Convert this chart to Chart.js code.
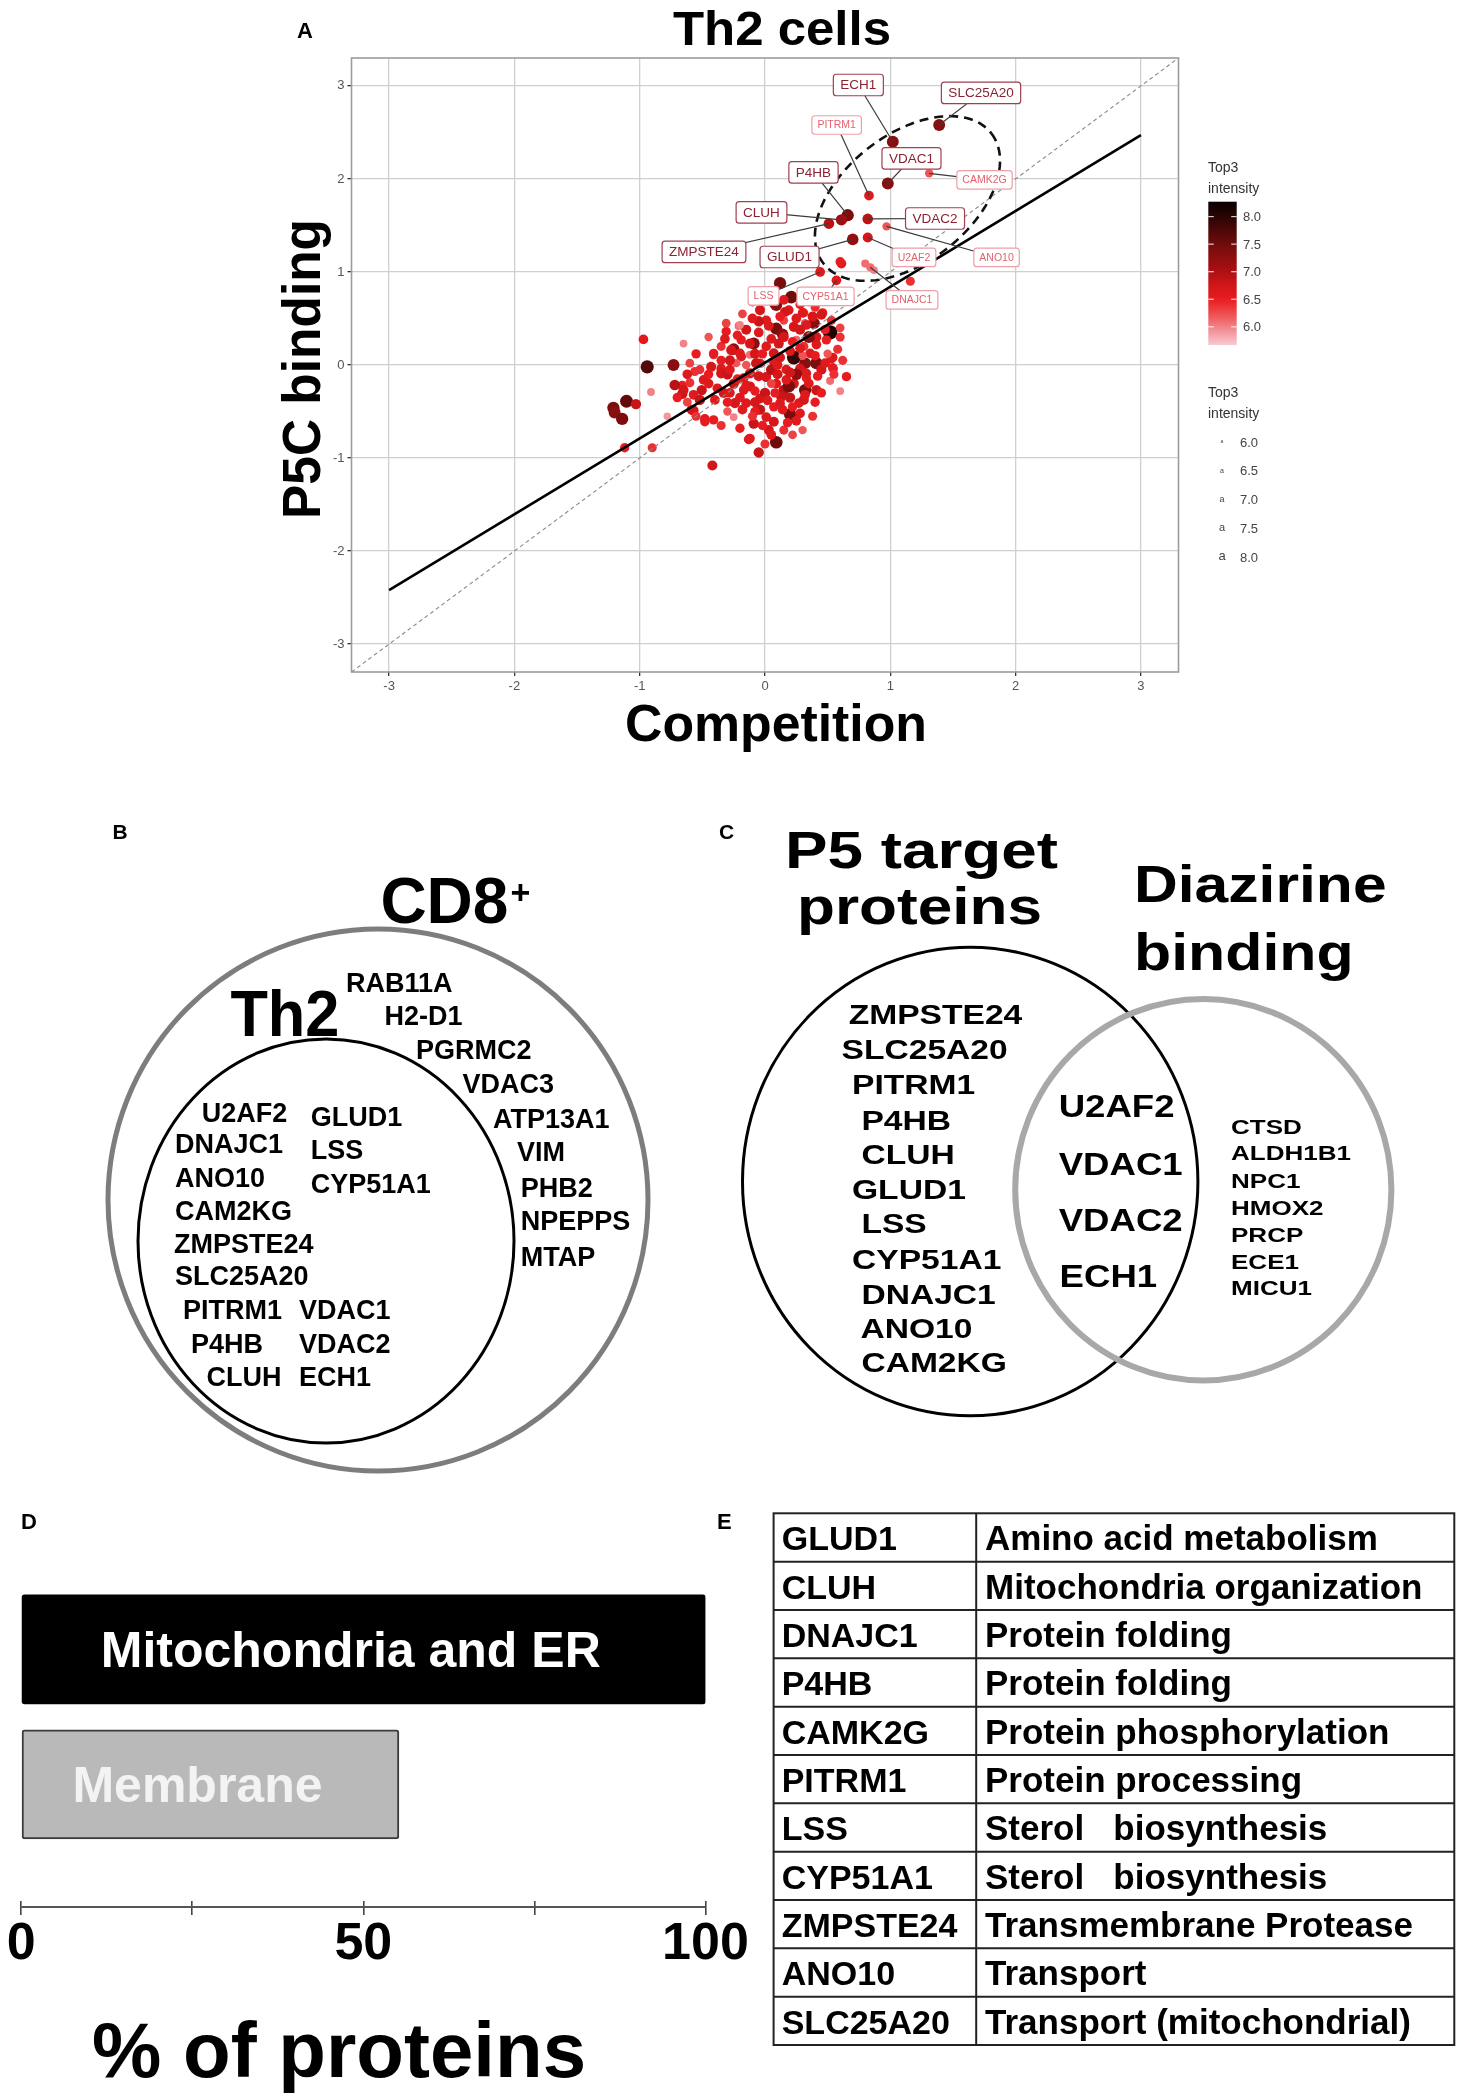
<!DOCTYPE html>
<html><head><meta charset="utf-8">
<script src="https://cdn.jsdelivr.net/npm/chart.js@4.4.0/dist/chart.umd.min.js"></script>
<style>
html,body{margin:0;padding:0;background:#fff;}
#page{position:relative;width:1469px;height:2100px;overflow:hidden;background:#fff;}
canvas{position:absolute;}
#cA{left:0;top:0;width:1469px;height:760px;}
#cD{left:0;top:1540px;width:760px;height:450px;}
#ov{position:absolute;left:0;top:0;}
</style></head>
<body><div id="page">
<canvas id="cA" width="1469" height="760"></canvas>
<canvas id="cD" width="760" height="450"></canvas>
<svg id="ov" width="1469" height="2100" xmlns="http://www.w3.org/2000/svg"></svg>
</div>
<script>
// ---------------- DATA ----------------
// Panel A: all quantified proteins (Competition, P5C binding, Top3 intensity)
const cloudX = [
-0.97,-0.94,-0.73,-0.65,-1.21,-1.105,-1.03,-1.20,-1.14,-1.12,
-0.90,-0.91,-0.42,-0.05,0.09,-0.12,0.20,0.52,0.23,0.65,
0.54,0.58,0.54,0.52,-0.48,-0.57,-0.66,-0.66,-0.25,-0.31,
-0.21,-0.25,-0.41,0.32,0.41,0.46,0.32,-0.56,-0.72,-0.65,
-0.57,-0.585,-0.48,-0.41,-0.78,-0.41,-0.13,0.03,0.07,-0.09,
-0.04,-0.17,-0.25,0.32,0.23,0.15,0.27,0.33,0.41,0.31,
0.53,0.545,0.60,0.45,0.39,0.33,0.31,0.23,0.09,0.01,
-0.04,-0.05,0.08,0.21,0.19,-0.15,-0.19,-0.27,-0.19,-0.09,
0.01,0.11,0.07,-0.04,-0.12,-0.17,0.01,0.09,0.19,0.17,
0.28,0.36,0.41,0.49,-0.35,-0.43,-0.49,-0.505,-0.33,-0.40,
-0.24,-0.15,-0.04,0.01,0.07,0.13,-0.12,-0.23,0.25,-0.31,
-0.20,0.12,0.16,0.09,0.30,0.38,0.53,0.62,0.14,-0.20,
-0.12,-0.07,0.07,0.17,-0.12,-0.28,0.33,0.41,0.31,0.12,
-0.08,-0.35,-0.45,-0.60,-0.52,0.61,1.16,0.87,0.80,0.60,
0.44,0.35,-0.10,0.00,0.05,-0.08,0.20,0.25,0.10,-0.30,
-0.20,0.10,0.15,-0.05,0.20,0.35,-0.35,0.45,0.40,0.25,
-0.10,-0.60,0.50,0.15,-0.30,0.05,0.30,-0.15,0.60,0.15,
-0.35,-0.28,-0.22,-0.15,-0.08,0.02,0.08,0.14,0.22,0.28,
0.18,0.05,-0.02,-0.18,-0.30,-0.38,-0.45,-0.52,-0.62,-0.70,
-0.55,0.35,0.42,0.48,0.40,0.28,0.22,0.05,-0.02,0.03,
0.12,0.25,0.28,0.40,-0.10,-0.22,-0.32,-0.28,-0.05,0.12,
0.20,0.32,0.45,0.55,0.48,0.15,0.02,-0.18,-0.45,-0.55,
-0.62,-0.35,-0.20,0.00,0.22,0.30,0.38,0.60,0.28,-0.08];
const cloudY = [
0.275,-0.02,0.00,0.23,-0.46,-0.39,-0.42,-0.51,-0.58,-0.89,
-0.89,-0.29,-1.08,-0.94,-0.83,-0.79,-0.53,0.35,0.08,-0.125,
0.08,0.17,-0.03,-0.17,-0.58,-0.49,-0.31,-0.22,-0.56,0.36,
0.42,0.17,0.11,0.02,0.22,0.56,0.45,-0.07,-0.215,-0.27,
-0.32,-0.48,-0.61,-0.59,-0.55,0.125,-0.80,-0.70,-0.45,-0.63,
-0.36,-0.27,-0.20,-0.27,-0.20,-0.27,-0.41,-0.14,0.02,0.20,
0.07,-0.04,0.30,0.54,0.45,0.43,0.56,0.41,0.39,0.48,
0.59,0.47,0.66,0.73,0.59,0.38,0.27,0.16,0.09,0.23,
0.20,0.23,0.035,0.02,-0.09,-0.14,-0.13,-0.20,-0.23,-0.05,
-0.04,0.125,0.30,0.27,-0.04,-0.02,-0.16,-0.27,-0.30,-0.375,
-0.41,-0.41,-0.48,-0.56,-0.61,-0.34,0.11,0.02,0.27,0.45,
0.43,0.88,0.57,0.645,0.56,0.52,0.48,0.05,0.33,0.125,
0.23,0.02,0.125,-0.16,-0.23,-0.30,-0.09,-0.27,-0.375,-0.41,
-0.50,-0.09,-0.20,-0.19,-0.375,1.09,0.90,1.02,1.09,1.11,
0.78,0.68,0.68,-0.30,-0.05,0.12,0.15,-0.10,-0.10,-0.10,
-0.35,0.00,0.30,0.35,-0.35,0.30,0.20,-0.05,-0.40,-0.60,
-0.55,0.02,0.12,0.48,-0.50,-0.20,0.10,0.00,-0.28,-0.70,
0.05,-0.05,-0.15,-0.22,-0.28,-0.38,-0.30,-0.48,-0.45,-0.52,
-0.62,-0.75,-0.65,-0.48,-0.40,-0.25,-0.10,-0.05,-0.10,-0.35,
-0.55,-0.20,-0.12,0.02,0.10,0.18,0.25,0.28,0.12,0.42,
0.52,0.50,0.65,0.62,0.50,0.32,0.28,0.05,-0.12,0.08,
-0.08,-0.32,-0.30,-0.10,0.38,0.70,0.75,0.55,0.30,0.12,
-0.40,-0.65,-0.68,-0.85,-0.75,-0.70,-0.55,0.40,0.38,-0.40];
const cloudI = [
6.6,7.7,7.3,6.0,7.4,7.6,6.8,7.3,7.4,6.5,
6.4,6.0,6.7,6.8,7.5,6.6,7.4,8.1,7.9,6.5,
6.6,6.4,6.5,6.1,6.6,6.7,6.8,6.5,6.0,6.5,
6.1,7.2,6.4,7.3,6.6,6.5,6.2,6.4,6.9,6.7,
6.6,6.7,6.5,6.5,5.9,6.5,6.6,6.7,6.5,6.8,
6.7,6.6,6.8,7.4,6.7,6.9,6.6,6.5,7.4,6.4,
6.6,6.5,6.4,6.7,7.3,6.6,6.4,6.7,7.4,6.6,
6.7,6.8,7.2,7.5,6.6,6.7,6.5,6.7,6.6,7.3,
6.6,6.7,6.6,6.5,6.7,6.6,6.7,6.6,7.4,6.6,
6.7,6.6,6.7,6.5,6.6,6.7,6.6,6.8,6.7,6.6,
6.7,6.6,6.8,6.6,6.7,6.8,6.1,6.2,6.1,6.3,
6.0,7.4,6.7,7.3,6.6,6.7,6.4,6.4,7.2,6.6,
6.7,6.8,6.7,6.6,6.7,6.6,6.6,6.8,6.7,6.6,
6.5,6.7,6.6,6.4,6.8,6.6,6.4,6.0,6.1,6.5,
6.4,6.4,6.5,6.8,6.9,6.7,6.6,7.2,6.7,6.8,
6.6,6.6,6.7,6.6,6.8,7.3,6.4,6.7,6.5,6.6,
6.4,6.3,6.2,6.3,6.2,6.3,6.2,6.2,6.0,6.4,
6.5,6.6,6.5,6.6,6.5,6.6,6.5,6.6,6.5,6.6,
6.5,6.6,6.5,6.6,6.5,6.6,6.5,6.4,6.6,6.5,
6.4,6.6,6.5,6.6,6.5,6.6,6.5,6.6,6.5,6.6,
6.5,6.6,6.5,6.4,6.6,6.5,6.6,6.7,6.7,6.7,
6.7,6.6,6.5,6.4,6.5,6.6,6.5,6.3,6.2,6.5,
6.3,6.4,6.5,6.4,6.3,6.2,6.4,6.3,6.7,6.7];
// Panel A: labelled P5 target proteins
const geneNames = ['ECH1','SLC25A20','PITRM1','VDAC1','CAMK2G','P4HB','CLUH','VDAC2','ZMPSTE24','GLUD1','U2AF2','ANO10','LSS','CYP51A1','DNAJC1'];
const geneX = [1.02,1.39,0.83,0.98,1.31,0.66,0.61,0.82,0.51,0.70,0.82,0.97,0.44,0.57,0.84];
const geneY = [2.40,2.58,1.82,1.95,2.06,1.61,1.56,1.57,1.52,1.35,1.37,1.49,1.00,0.91,1.05];
const geneI = [7.3,7.3,6.6,7.3,6.2,7.4,7.1,6.9,6.9,7.2,6.7,6.2,6.6,6.6,6.1];
// Panel A: fitted regression line and identity line
const fitX = [-3, 3];
const fitY = [-2.42, 2.47];
const idX = [-3.3, 3.3];
const idY = [-3.3, 3.3];
const axisTicksA = [-3,-2,-1,0,1,2,3];
const legendBreaks = [6.0, 6.5, 7.0, 7.5, 8.0];
const intensityRange = [5.67, 8.27];

// Panel B
const cd8OnlyGenes = ['RAB11A','H2-D1','PGRMC2','VDAC3','ATP13A1','VIM','PHB2','NPEPPS','MTAP'];
const th2GenesA = ['U2AF2','DNAJC1','ANO10','CAM2KG','ZMPSTE24','SLC25A20','PITRM1','P4HB','CLUH'];
const th2GenesB = ['GLUD1','LSS','CYP51A1','VDAC1','VDAC2','ECH1'];
// Panel C
const p5OnlyGenes = ['ZMPSTE24','SLC25A20','PITRM1','P4HB','CLUH','GLUD1','LSS','CYP51A1','DNAJC1','ANO10','CAM2KG'];
const sharedGenes = ['U2AF2','VDAC1','VDAC2','ECH1'];
const diazOnlyGenes = ['CTSD','ALDH1B1','NPC1','HMOX2','PRCP','ECE1','MICU1'];
// Panel D
const locCategories = ['Mitochondria and ER','Membrane'];
const locPercent = [100, 55.2];
const pctTickLabels = [0, 50, 100];
// Panel E
const tableGenes = ['GLUD1','CLUH','DNAJC1','P4HB','CAMK2G','PITRM1','LSS','CYP51A1','ZMPSTE24','ANO10','SLC25A20'];
const tableFunctions = ['Amino acid metabolism','Mitochondria organization','Protein folding','Protein folding','Protein phosphorylation','Protein processing','Sterol\u00a0\u00a0\u00a0biosynthesis','Sterol\u00a0\u00a0\u00a0biosynthesis','Transmembrane Protease','Transport','Transport (mitochondrial)'];

// ---------------- LAYOUT / STYLE (not data) ----------------
const labelAtX = [0.745,1.724,0.572,1.169,1.752,0.387,-0.028,1.357,-0.487,0.196,1.189,1.848,-0.012,0.483,1.173];
const labelAtY = [3.01,2.925,2.58,2.22,1.99,2.07,1.64,1.575,1.215,1.161,1.156,1.156,0.742,0.737,0.699];
const ellipseCenter = [1.137, 1.79];
const ellipseU = [0.670, 0.699];
const ellipseV = [0.311, -0.543];
const cd8OnlyPos = [[346,992],[384.6,1024.7],[416,1059],[462.5,1092.5],[493,1128],[517,1161],[520.7,1197],[520.7,1230],[520.7,1266]];
const th2APos = [[201.8,1122],[175,1153],[175,1186.6],[175,1220],[174,1252.5],[175,1285],[183,1319.4],[191,1352.7],[206.4,1386]];
const th2BPos = [[310.7,1126],[310.7,1158.7],[310.7,1193],[299,1319.4],[299,1352.7],[299,1386]];
const p5OnlyPos = [[848.7,1023.9],[841.6,1059],[852,1094.4],[861.4,1129.6],[861.4,1164],[852,1198.8],[861.4,1233],[852,1268.5],[861.4,1303.7],[860.5,1338],[861.4,1372]];
const sharedPos = [[1058.7,1117],[1058.7,1175],[1058.7,1231],[1059.6,1287]];
const diazPos = [[1231,1133.7],[1231,1160],[1231,1187.6],[1231,1214.6],[1231,1241.5],[1231,1268.5],[1231,1295.4]];

const FONT = "'Liberation Sans', Arial, Helvetica, sans-serif";
Chart.defaults.font.family = FONT;

const colorStops = [[5.67,[246,202,210]],[6.0,[242,130,135]],[6.2,[240,85,85]],[6.5,[232,28,32]],[6.75,[210,22,25]],[7.0,[172,16,19]],[7.5,[112,12,12]],[8.0,[42,4,4]],[8.27,[10,0,0]]];
function colorOf(v){
  if (v <= colorStops[0][0]) return 'rgb('+colorStops[0][1].join(',')+')';
  for (let i=1;i<colorStops.length;i++){
    if (v <= colorStops[i][0]) {
      const [a,ca]=colorStops[i-1],[b,cb]=colorStops[i]; const t=(v-a)/(b-a);
      return 'rgb('+ca.map((c,k)=>Math.round(c+(cb[k]-c)*t)).join(',')+')';
    }
  }
  return 'rgb('+colorStops[colorStops.length-1][1].join(',')+')';
}
function sizeOf(v){ return Math.max(3.0, 3.9 + (v-6)*1.6); }

// ---------------- PANEL A (Chart.js scatter) ----------------
function roundRect(ctx,x,y,w,h,r){ctx.beginPath();ctx.moveTo(x+r,y);ctx.lineTo(x+w-r,y);ctx.quadraticCurveTo(x+w,y,x+w,y+r);ctx.lineTo(x+w,y+h-r);ctx.quadraticCurveTo(x+w,y+h,x+w-r,y+h);ctx.lineTo(x+r,y+h);ctx.quadraticCurveTo(x,y+h,x,y+h-r);ctx.lineTo(x,y+r);ctx.quadraticCurveTo(x,y,x+r,y);ctx.closePath();}
const aPlugin = {
  id:'aDecor',
  beforeDatasetsDraw(chart){
    const {ctx, chartArea:ca} = chart;
    ctx.save(); ctx.strokeStyle='#9c9c9c'; ctx.lineWidth=1.6;
    ctx.strokeRect(ca.left, ca.top, ca.right-ca.left, ca.bottom-ca.top); ctx.restore();
  },
  afterDatasetsDraw(chart){
    const {ctx, scales:{x,y}} = chart;
    ctx.save();
    ctx.setLineDash([9,6]); ctx.lineWidth=2.6; ctx.strokeStyle='#111';
    ctx.beginPath();
    for (let k=0;k<=160;k++){
      const t=k/160*2*Math.PI;
      const dx=ellipseCenter[0]+ellipseU[0]*Math.cos(t)+ellipseV[0]*Math.sin(t);
      const dy=ellipseCenter[1]+ellipseU[1]*Math.cos(t)+ellipseV[1]*Math.sin(t);
      const px=x.getPixelForValue(dx), py=y.getPixelForValue(dy);
      if(k===0) ctx.moveTo(px,py); else ctx.lineTo(px,py);
    }
    ctx.stroke(); ctx.setLineDash([]);
    geneNames.forEach((g,i)=>{
      ctx.strokeStyle='#3b3b3b'; ctx.lineWidth=1.2; ctx.beginPath();
      ctx.moveTo(x.getPixelForValue(geneX[i]), y.getPixelForValue(geneY[i]));
      ctx.lineTo(x.getPixelForValue(labelAtX[i]), y.getPixelForValue(labelAtY[i]));
      ctx.stroke();
    });
    geneNames.forEach((g,i)=>{
      const dark = geneI[i] >= 6.85;
      const fs = dark ? 13.5 : 10.5;
      ctx.font = fs+'px '+FONT;
      const tw = ctx.measureText(g).width;
      const w = tw + (dark?14:11), h = fs + 8;
      const lx=x.getPixelForValue(labelAtX[i]), ly=y.getPixelForValue(labelAtY[i]);
      roundRect(ctx, lx-w/2, ly-h/2, w, h, 3);
      ctx.fillStyle='#fff'; ctx.fill();
      ctx.strokeStyle = dark ? '#a0404e' : '#eea0a8'; ctx.lineWidth=1.2; ctx.stroke();
      ctx.fillStyle = dark ? '#8a2232' : '#e4606d';
      ctx.textAlign='center'; ctx.textBaseline='middle';
      ctx.fillText(g, lx, ly+0.5);
    });
    ctx.restore();
  }
};
new Chart(document.getElementById('cA'), {
  type:'scatter',
  data:{datasets:[
    {label:'fit', type:'line', data: fitX.map((v,i)=>({x:v,y:fitY[i]})), borderColor:'#000', borderWidth:2.6, pointRadius:0, fill:false, order:1},
    {label:'identity', type:'line', data: idX.map((v,i)=>({x:v,y:idY[i]})), borderColor:'#8a8a8a', borderWidth:1.1, borderDash:[4,3], pointRadius:0, fill:false, order:1},
    {label:'targets', data: geneX.map((v,i)=>({x:v,y:geneY[i]})), pointRadius: geneI.map(sizeOf), backgroundColor: geneI.map(colorOf), borderWidth:0, order:2},
    {label:'proteins', data: cloudX.map((v,i)=>({x:v,y:cloudY[i]})), pointRadius: cloudI.map(sizeOf), backgroundColor: cloudI.map(colorOf), borderWidth:0, order:3}
  ]},
  options:{
    responsive:false, animation:false, events:[], devicePixelRatio:1,
    layout:{padding:{left:321.5, right:290.5, top:58, bottom:58}},
    plugins:{legend:{display:false}, tooltip:{enabled:false}, title:{display:false}},
    scales:{
      x:{type:'linear', min:-3.3, max:3.3, afterFit(s){s.height=30;},
         afterBuildTicks(s){s.ticks = axisTicksA.map(v=>({value:v}));},
         ticks:{font:{size:13}, color:'#555', padding:3, autoSkip:false, callback:v=>String(v)},
         grid:{color:'#cfcfcf', lineWidth:1.3, tickLength:4, tickColor:'#333', tickWidth:1.3}, border:{display:false}},
      y:{type:'linear', min:-3.3, max:3.3, afterFit(s){s.width=30;},
         afterBuildTicks(s){s.ticks = axisTicksA.map(v=>({value:v}));},
         ticks:{font:{size:13}, color:'#555', padding:3, autoSkip:false, callback:v=>String(v)},
         grid:{color:'#cfcfcf', lineWidth:1.3, tickLength:4, tickColor:'#333', tickWidth:1.3}, border:{display:false}}
    }
  },
  plugins:[aPlugin]
});

// ---------------- PANEL D (Chart.js horizontal bar) ----------------
const dPlugin = {
  id:'dDecor',
  afterDraw(chart){
    const {ctx, scales:{x}, chartArea} = chart;
    ctx.save();
    ctx.strokeStyle='#555'; ctx.lineWidth=2;
    const yy = chartArea.bottom + 6;
    ctx.beginPath(); ctx.moveTo(x.getPixelForValue(0), yy); ctx.lineTo(x.getPixelForValue(100), yy); ctx.stroke();
    const meta = chart.getDatasetMeta(0);
    meta.data.forEach((bar,i)=>{
      ctx.font='bold 50px '+FONT; ctx.fillStyle = i===0 ? '#ffffff' : '#f3f3f3';
      ctx.textAlign='center'; ctx.textBaseline='alphabetic';
      ctx.fillText(locCategories[i], (bar.base+bar.x)/2 - 13, bar.y + 18);
    });
    ctx.restore();
  }
};
new Chart(document.getElementById('cD'), {
  type:'bar',
  data:{datasets:[{label:'% of proteins', data: locPercent.map((v,i)=>({x:v,y:i})),
    backgroundColor:['#000000','#b9b9b9'], borderColor:['#000000','#3a3a3a'], borderWidth:[0,2],
    borderSkipped:false, borderRadius:3, barThickness:109}]},
  options:{
    indexAxis:'y', responsive:false, animation:false, events:[], devicePixelRatio:1,
    layout:{padding:{left:21.2, right:54.5, top:10, bottom:0}},
    plugins:{legend:{display:false}, tooltip:{enabled:false}},
    scales:{
      x:{type:'linear', min:0, max:100, afterFit(s){s.height=89;},
         ticks:{stepSize:25, autoSkip:false, maxRotation:0, font:{size:52, weight:'bold'}, color:'#000', padding:-2,
                callback:v=> pctTickLabels.includes(v) ? String(v) : ''},
         grid:{drawOnChartArea:false, tickLength:14, color:'#444', lineWidth:1.6}, border:{display:false}},
      y:{type:'linear', reverse:true, min:-0.52, max:1.648, display:false}
    }
  },
  plugins:[dPlugin]
});

// ---------------- SVG overlay: titles, legend, Venn diagrams, table ----------------
const NS='http://www.w3.org/2000/svg';
const ov=document.getElementById('ov');
function el(tag, attrs, parent){const e=document.createElementNS(NS,tag); for(const k in attrs) e.setAttribute(k, attrs[k]); (parent||ov).appendChild(e); return e;}
function txt(str, x, y, size, o){
  o=o||{};
  const a={'font-size':size, 'font-family':FONT, 'font-weight':o.weight||'bold', fill:o.fill||'#000'};
  if(o.anchor) a['text-anchor']=o.anchor;
  if(o.len){a.textLength=o.len; a.lengthAdjust='spacingAndGlyphs';}
  let parent=ov;
  if(o.sx || o.rot){
    parent=el('g',{transform:'translate('+x+','+y+')'+(o.rot?' rotate('+o.rot+')':'')+(o.sx?' scale('+o.sx+',1)':'')});
    a.x=0; a.y=0;
  } else { a.x=x; a.y=y; }
  const t=el('text',a,parent); t.textContent=str; return t;
}
txt('A', 297, 38, 22);
txt('Th2 cells', 673, 45, 48, {len:218});
txt('P5C binding', 320, 369, 54, {rot:-90, anchor:'middle', len:300});
txt('Competition', 625, 741, 52, {len:302});
const defs = el('defs',{});
const grad = el('linearGradient',{id:'cb', x1:0, y1:0, x2:0, y2:1}, defs);
for (let k=0;k<=26;k++){
  const v = intensityRange[1] - k*(intensityRange[1]-intensityRange[0])/26;
  el('stop',{offset:(k/26).toFixed(4), 'stop-color':colorOf(v)}, grad);
}
txt('Top3', 1208, 172, 14, {weight:'normal', fill:'#333'});
txt('intensity', 1208, 193, 14, {weight:'normal', fill:'#333'});
const cbTop=201.7, cbH=143.3, cbL=1208.3, cbW=28.4;
el('rect',{x:cbL, y:cbTop, width:cbW, height:cbH, fill:'url(#cb)'});
legendBreaks.forEach(b=>{
  const yy = cbTop + (intensityRange[1]-b)/(intensityRange[1]-intensityRange[0])*cbH;
  el('line',{x1:cbL, x2:cbL+5.5, y1:yy, y2:yy, stroke:'#fff', 'stroke-width':1.2, opacity:0.8});
  el('line',{x1:cbL+cbW-5.5, x2:cbL+cbW, y1:yy, y2:yy, stroke:'#fff', 'stroke-width':1.2, opacity:0.8});
  txt(b.toFixed(1), 1243, yy+4.5, 13, {weight:'normal', fill:'#444'});
});
txt('Top3', 1208, 397, 14, {weight:'normal', fill:'#333'});
txt('intensity', 1208, 418, 14, {weight:'normal', fill:'#333'});
legendBreaks.forEach((b,k)=>{
  const yy = 442 + k*28.75;
  const fs = 5 + (b-6)*4;
  txt('a', 1222, yy + fs*0.26, fs, {weight:'normal', fill:'#444', anchor:'middle'});
  txt(b.toFixed(1), 1240, yy+4.5, 13, {weight:'normal', fill:'#444'});
});

txt('B', 112.5, 839, 21);
el('ellipse',{cx:378, cy:1200, rx:270, ry:271, fill:'none', stroke:'#7d7d7d', 'stroke-width':5});
el('ellipse',{cx:326, cy:1241, rx:188, ry:202, fill:'none', stroke:'#000', 'stroke-width':3});
txt('CD8', 380.4, 923.3, 64);
txt('+', 510.5, 904, 34);
txt('Th2', 230.4, 1036.2, 64, {len:109});
cd8OnlyGenes.forEach((g,i)=>txt(g, cd8OnlyPos[i][0], cd8OnlyPos[i][1], 27));
th2GenesA.forEach((g,i)=>txt(g, th2APos[i][0], th2APos[i][1], 27));
th2GenesB.forEach((g,i)=>txt(g, th2BPos[i][0], th2BPos[i][1], 27));

txt('C', 719, 839, 21);
el('ellipse',{cx:970.2, cy:1181.5, rx:227.7, ry:234.3, fill:'none', stroke:'#000', 'stroke-width':3});
el('ellipse',{cx:1203.3, cy:1189.7, rx:188.1, ry:190.7, fill:'none', stroke:'#a8a8a8', 'stroke-width':6});
txt('P5 target', 785, 868, 52, {len:273});
txt('proteins', 797, 924, 52, {len:245});
txt('Diazirine', 1134, 901.6, 52, {len:252.6});
txt('binding', 1134, 970, 52, {len:219.6});
p5OnlyGenes.forEach((g,i)=>txt(g, p5OnlyPos[i][0], p5OnlyPos[i][1], 28, {sx:1.2}));
sharedGenes.forEach((g,i)=>txt(g, sharedPos[i][0], sharedPos[i][1], 31, {sx:1.18}));
diazOnlyGenes.forEach((g,i)=>txt(g, diazPos[i][0], diazPos[i][1], 21, {sx:1.24}));

txt('D', 21, 1529, 22);
txt('% of proteins', 92, 2077, 78);

txt('E', 717, 1529, 22);
const tTop=1513.3, tBot=2045, tL=773.6, tR=1454.3, tMid=976.2;
const rowH=(tBot-tTop)/tableGenes.length;
el('rect',{x:tL, y:tTop, width:tR-tL, height:tBot-tTop, fill:'none', stroke:'#222', 'stroke-width':2});
el('line',{x1:tMid, x2:tMid, y1:tTop, y2:tBot, stroke:'#222', 'stroke-width':2});
for (let i=1;i<tableGenes.length;i++){
  el('line',{x1:tL, x2:tR, y1:tTop+i*rowH, y2:tTop+i*rowH, stroke:'#222', 'stroke-width':2});
}
tableGenes.forEach((g,i)=>{
  txt(g, 781.7, tTop + i*rowH + 36.9, 34);
  txt(tableFunctions[i], 985, tTop + i*rowH + 36.9, 35);
});
</script>
</body></html>
